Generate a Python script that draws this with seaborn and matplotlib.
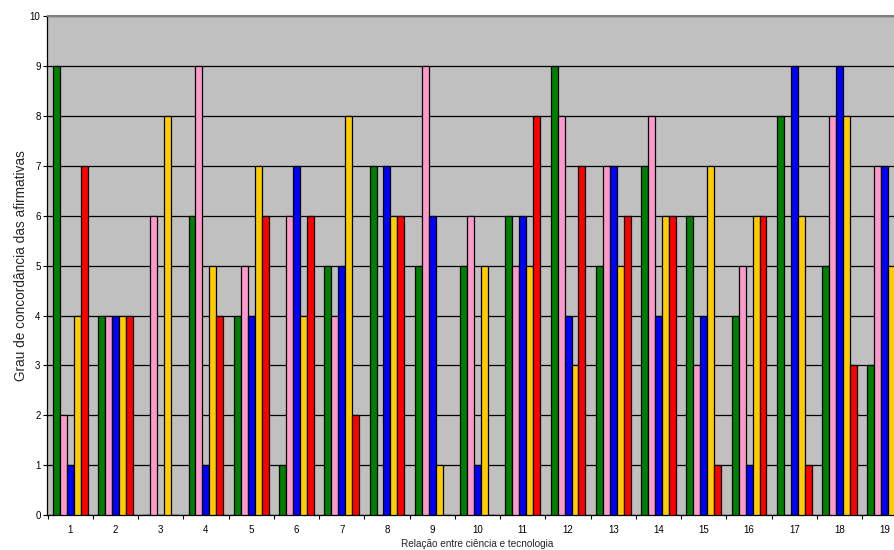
import numpy as np
import pandas as pd
import matplotlib
matplotlib.use("Agg")
import matplotlib.pyplot as plt
import seaborn as sns

# Agreement scores per statement (1..19) for five respondent groups
categories = [str(i) for i in range(1, 20)]
serie_verde   = [9, 4, 0, 6, 4, 1, 5, 7, 5, 5, 6, 9, 5, 7, 6, 4, 8, 5, 3]
serie_rosa    = [2, 4, 6, 9, 5, 6, 4, 0, 9, 6, 5, 8, 7, 8, 3, 5, 0, 8, 7]
serie_azul    = [1, 4, 0, 1, 4, 7, 5, 7, 6, 1, 6, 4, 7, 4, 4, 1, 9, 9, 7]
serie_amarela = [4, 4, 8, 5, 7, 4, 8, 6, 1, 5, 5, 3, 5, 6, 7, 6, 6, 8, 5]
serie_vermelha = [7, 4, 0, 4, 6, 6, 2, 6, 0, 0, 8, 7, 6, 6, 1, 6, 1, 3, 7]
series_names = ["A", "B", "C", "D", "E"]
y_ticks = list(range(0, 11))

palette = ["#008000", "#FF99CC", "#0000FF", "#FFCC00", "#FF0000"]

rows = []
for name, vals in zip(series_names,
                      [serie_verde, serie_rosa, serie_azul, serie_amarela, serie_vermelha]):
    for c, v in zip(categories, vals):
        rows.append({"cat": c, "serie": name, "valor": v})
df = pd.DataFrame(rows)

sns.set_style("white")
plt.rcParams["font.family"] = ["Liberation Sans", "DejaVu Sans"]

fig = plt.figure(figsize=(8.95, 5.5), dpi=100)
ax = fig.add_axes([47.5 / 895, 35 / 550, 860 / 895, 498.7 / 550])
ax.set_facecolor("#C0C0C0")

sns.barplot(data=df, x="cat", y="valor", hue="serie", order=categories,
            hue_order=series_names, palette=palette, width=5 / 6.5,
            edgecolor="black", linewidth=0.9, saturation=1, errorbar=None,
            legend=False, ax=ax, zorder=3)

ax.set_ylim(0, 10)
ax.set_xlim(-0.5, 18.5)
ax.set_yticks(y_ticks)
ax.yaxis.grid(True, color="black", linewidth=0.9, zorder=0)
ax.set_axisbelow(True)

ax.set_xticks(range(len(categories)))
ax.set_xticklabels(categories)
ax.set_xticks(np.arange(-0.5, 19, 1), minor=True)
ax.tick_params(axis="x", which="major", length=0, labelsize=7, pad=7, colors="black")
ax.tick_params(axis="x", which="minor", length=3, width=0.8, direction="out",
               color="black", bottom=True)
ax.tick_params(axis="y", length=3, width=0.8, direction="out", left=True,
               labelsize=7, pad=2, colors="black")

ax.spines["right"].set_visible(False)
ax.spines["top"].set_color("#808080")
ax.spines["top"].set_linewidth(1.5)
ax.spines["left"].set_color("black")
ax.spines["left"].set_linewidth(0.9)
ax.spines["bottom"].set_color("black")
ax.spines["bottom"].set_linewidth(0.9)

ax.set_xlabel("Relação entre ciência e tecnologia", fontsize=7.2, labelpad=3)
ax.set_ylabel("Grau de concordância das afirmativas", fontsize=9.8, labelpad=1.5)

fig.savefig("out.png", dpi=100)
